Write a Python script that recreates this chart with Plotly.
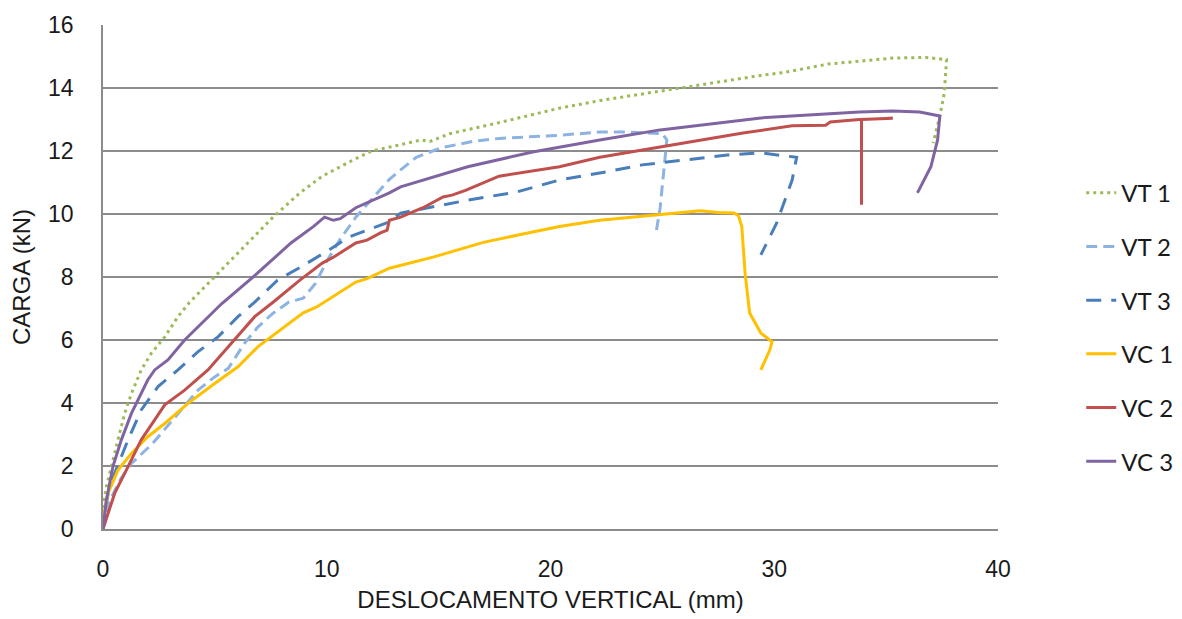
import plotly.graph_objects as go

# ---- data ----
VT1_x = [0, 0.05, 0.15, 0.37, 0.67, 0.97, 1.27, 1.71, 2.16, 2.76, 3.35, 3.87, 5.4, 6.5, 7.6, 8.8, 9.8, 11.0, 12.0,
         13.3, 14.2, 14.6, 15.5, 17.7, 20.4, 22.2, 25.3, 27.5, 29.4, 30.5, 32.4, 35.3, 36.8, 37.7, 37.6, 37.4, 37.1]
VT1_y = [0, 0.92, 1.34, 2.0, 2.83, 3.67, 4.3, 5.05, 5.58, 6.1, 6.74, 7.2, 8.3, 9.1, 9.9, 10.67, 11.2, 11.65, 12.0,
         12.2, 12.35, 12.3, 12.55, 12.9, 13.36, 13.6, 13.94, 14.2, 14.4, 14.5, 14.76, 14.95, 14.97, 14.9, 13.84, 13.1, 12.25]

VT2_x = [0, 0.3, 0.8, 1.27, 2.2, 3.5, 4.25, 4.99, 5.6, 6.33, 6.93, 7.6, 8.3, 8.95, 9.5, 10.0, 10.6, 11.3, 11.8, 12.8,
         13.3, 14.0, 15.1, 16.5, 17.7, 20.4, 22.2, 23.4, 25.0, 25.2, 24.9, 24.7]
VT2_y = [0, 0.9, 1.6, 2.08, 2.7, 3.78, 4.41, 4.83, 5.1, 5.9, 6.42, 6.85, 7.2, 7.33, 7.8, 8.5, 9.2, 9.9, 10.3, 11.1,
         11.4, 11.8, 12.1, 12.3, 12.4, 12.5, 12.6, 12.6, 12.55, 12.35, 10.2, 9.33]

VT3_x = [0, 0.1, 0.25, 0.52, 1.12, 1.71, 2.46, 3.35, 4.25, 5.14, 6.03, 6.78, 7.8, 8.8, 10.1, 11.0, 12.8, 13.3, 16.3,
         18.5, 20.4, 22.2, 24.1, 27.9, 29.4, 31.0, 30.8, 30.1, 29.4]
VT3_y = [0, 0.6, 1.2, 1.77, 2.83, 3.78, 4.52, 5.05, 5.63, 6.1, 6.74, 7.2, 7.9, 8.3, 8.86, 9.27, 9.75, 10.03, 10.44,
         10.7, 11.08, 11.3, 11.56, 11.87, 11.94, 11.8, 11.08, 9.7, 8.7]

VC1_x = [0, 0.05, 0.22, 0.67, 1.27, 2.0, 2.76, 3.8, 4.99, 6.03, 6.93, 7.9, 8.95, 9.55, 10.3, 11.3, 11.8, 12.8, 14.75,
         17.0, 19.2, 20.4, 22.2, 24.8, 26.7, 27.5, 28.2, 28.4, 28.55, 28.7, 28.9, 29.4, 29.9, 29.8, 29.4]
VC1_y = [0, 0.5, 1.13, 1.87, 2.4, 2.93, 3.35, 3.99, 4.62, 5.15, 5.79, 6.3, 6.86, 7.05, 7.4, 7.84, 7.95, 8.28, 8.63,
         9.1, 9.43, 9.6, 9.8, 9.97, 10.1, 10.05, 10.03, 9.95, 9.6, 8.1, 6.86, 6.22, 5.94, 5.68, 5.05]

VC2_x = [0, 0.52, 1.12, 1.71, 2.76, 3.65, 4.69, 5.74, 6.78, 7.6, 8.8, 9.8, 10.3, 11.3, 11.8, 12.4, 12.7, 12.75, 12.8,
         13.3, 14.3, 15.2, 15.6, 16.2, 17.7, 20.4, 22.2, 24.9, 28.6, 30.8, 32.0, 32.3, 32.5, 33.8, 35.3, 33.9, 33.9]
VC2_y = [0, 1.13, 1.98, 2.83, 3.94, 4.41, 5.05, 5.9, 6.74, 7.2, 7.9, 8.44, 8.63, 9.08, 9.17, 9.4, 9.49, 9.65, 9.8,
         9.9, 10.2, 10.54, 10.6, 10.75, 11.2, 11.5, 11.8, 12.13, 12.57, 12.8, 12.82, 12.82, 12.92, 13.0, 13.04, 13.0, 10.29]

VC3_x = [0, 0.15, 0.45, 0.82, 1.27, 1.64, 2.0, 2.31, 2.9, 3.65, 4.25, 5.3, 6.9, 8.4, 9.4, 9.9, 10.3, 10.6, 11.3,
         12.8, 13.3, 16.3, 19.2, 20.4, 22.2, 24.9, 29.4, 33.8, 35.3, 36.5, 37.4, 37.3, 37.0, 36.4]
VC3_y = [0, 0.92, 2.0, 2.83, 3.67, 4.2, 4.73, 5.05, 5.37, 6.0, 6.42, 7.15, 8.12, 9.08, 9.6, 9.9, 9.8, 9.85, 10.2,
         10.67, 10.86, 11.5, 11.97, 12.13, 12.35, 12.67, 13.05, 13.24, 13.27, 13.24, 13.11, 12.35, 11.5, 10.67]

series_names = ["VT 1", "VT 2", "VT 3", "VC 1", "VC 2", "VC 3"]
x_ticks = [0, 10, 20, 30, 40]
y_ticks = [0, 2, 4, 6, 8, 10, 12, 14, 16]

series = [(VT1_x, VT1_y), (VT2_x, VT2_y), (VT3_x, VT3_y), (VC1_x, VC1_y), (VC2_x, VC2_y), (VC3_x, VC3_y)]
styles = [
    dict(color="#9BBB59", width=3, dash="3px,4px"),
    dict(color="#8DB3E2", width=3, dash="11px,6px"),
    dict(color="#4A7EBB", width=3, dash="15px,10px"),
    dict(color="#FFC000", width=3, dash="solid"),
    dict(color="#C0504D", width=3, dash="solid"),
    dict(color="#8064A2", width=3, dash="solid"),
]

fig = go.Figure()
for name, (xs, ys), st in zip(series_names, series, styles):
    fig.add_trace(go.Scatter(x=xs, y=ys, mode="lines", name=name, line=st,
                             legendgroup=name))

grid = "#8C8C8C"
fig.update_layout(
    width=1174, height=611,
    margin=dict(l=95, r=184, t=17, b=90, autoexpand=False),
    paper_bgcolor="white", plot_bgcolor="white",
    font=dict(family="Liberation Sans, Arial", color="#1a1a1a"),
    showlegend=True,
    legend=dict(x=1.093, y=0.711, xanchor="left", yanchor="top",
                font=dict(family="Lato", size=24, color="#1a1a1a"),
                tracegroupgap=19.5, bgcolor="rgba(0,0,0,0)"),
    xaxis=dict(range=[0, 40], tickvals=x_ticks, showgrid=False, zeroline=False, automargin=False,
               showline=True, linecolor=grid, linewidth=1.5, ticks="",
               tickfont=dict(size=23), ticklabelstandoff=19,
               title=dict(text="DESLOCAMENTO VERTICAL (mm)", font=dict(size=24), standoff=10)),
    yaxis=dict(range=[0, 16], tickvals=y_ticks, showgrid=True, gridcolor=grid, gridwidth=1.5, automargin=False,
               zeroline=False, showline=True, linecolor=grid, linewidth=1.5, ticks="",
               tickfont=dict(size=23), ticklabelstandoff=23,
               title=dict(text="CARGA (kN)", font=dict(size=24), standoff=15)),
)

fig.write_html("out.html")
